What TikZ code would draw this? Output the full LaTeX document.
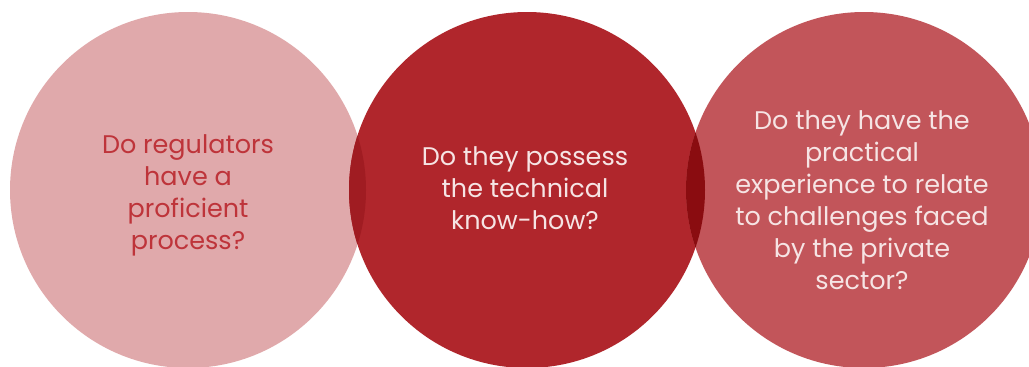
\documentclass[tikz,border=0pt]{standalone}
\usepackage{fontspec}
\setmainfont{Poppins}
\usepackage{tikz}
\usetikzlibrary{positioning}
\definecolor{regclr}{RGB}{224,169,171}
\definecolor{techclr}{RGB}{176,38,44}
\definecolor{practclr}{RGB}{194,85,90}
\definecolor{lensaclr}{RGB}{160,28,34}
\definecolor{lensbclr}{RGB}{138,12,16}
\definecolor{redtxt}{RGB}{190,52,58}
\definecolor{lighttxt}{RGB}{246,228,228}
\tikzset{ %
  ,x=1pt, y=-1pt
  ,bubble/.style={circle, inner sep=0, minimum size=356pt}
  ,question/.style={align=center, inner sep=0, font=\fontsize{25.5}{32}\selectfont}
}

\begin{document}
\begin{tikzpicture}
  \useasboundingbox (0,0) rectangle (1029,367);
  % the three circles
  \node[bubble, fill=regclr] (reg) at (188,190) {};
  \node[bubble, fill=techclr] (tech) at (527,190) {};
  \node[bubble, fill=practclr] (pract) at (864,190) {};
  % darker where they overlap
  \begin{scope}
    \clip (reg.center) circle (178);
    \fill[lensaclr] (tech.center) circle (178);
  \end{scope}
  \begin{scope}
    \clip (tech.center) circle (178);
    \fill[lensbclr] (pract.center) circle (178);
  \end{scope}
  % questions
  \node[question, text=redtxt] (regq) at (188,195) {Do regulators\\have a\\proficient\\process?};
  \node[question, text=lighttxt] (techq) at (525,188) {Do they possess\\the technical\\know-how?};
  \node[question, text=lighttxt] (practq) at (862,200) {Do they have the\\practical\\experience to relate\\to challenges faced\\by the private\\sector?};
\end{tikzpicture}
\end{document}
